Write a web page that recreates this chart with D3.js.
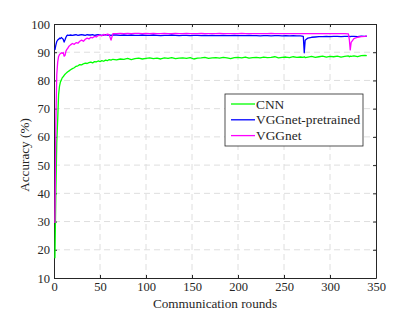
<!DOCTYPE html>
<html>
<head>
<meta charset="utf-8">
<script src="https://cdn.jsdelivr.net/npm/d3@7"></script>
<style>
  body { margin: 0; background: #fff; }
  text { font-family: "Liberation Serif", "DejaVu Serif", serif; fill: #262626; }
</style>
</head>
<body>
<div id="chart"></div>
<script>
const width = 415, height = 312, margin = {top: 24, right: 39, bottom: 34, left: 54};

const rounds = [1,2,3,4,5,6,7,8,9,10,11,12,13,14,15,16,
  18,20,22,24,26,28,30,32,34,36,38,40,42,44,46,48,50,52,54,56,58,60,62,64,
  68,72,76,80,84,88,92,96,100,104,108,112,116,120,124,128,132,136,140,144,148,152,156,160,164,
  168,172,176,180,184,188,192,196,200,204,208,212,216,220,224,228,232,236,240,244,248,252,256,260,264,268,
  271,272,273,276,280,284,288,292,296,300,304,308,312,316,320,321,322,323,326,330,334,338,340];

const cnn = [17,40,58,66,75,78,79.5,80.2,81,81.3,81.8,82.2,82.5,82.8,83.1,83.3,
  83.8,84.2,84.5,85,85.2,85.6,85.5,85.9,86.1,86,86.3,86.5,86.2,86.7,86.6,86.9,86.7,87,86.8,87.2,87.0,87.4,87.2,87.5,
  87.3,87.6,87.5,87.8,87.4,87.7,87.9,87.6,87.8,88.0,
  87.7,87.9,87.6,88.0,87.8,88.1,87.7,87.9,88.0,87.8,
  88.1,87.6,87.9,88.0,88.2,87.8,88.0,88.1,87.9,88.2,
  88.0,87.7,88.1,88.2,88.0,88.3,87.9,88.1,88.2,88.0,
  88.3,88.1,88.2,88.4,88.0,88.2,88.3,88.1,88.4,88.2,
  88.3,
  88.2,88.4,88.1,
  88.3,88.5,88.2,88.4,88.6,88.3,88.5,88.4,88.6,88.3,88.5,88.7,
  88.4,88.6,88.5,
  88.7,88.4,88.8,88.9,88.8];

const vggPre = [90.8,92.5,93.8,94.3,94.6,95.0,94.8,95.2,94.9,94.6,93.6,94.4,95.3,95.9,96.1,96.0,
  96.1,96.0,96.1,96.2,96.0,96.1,96.2,96.1,96.0,96.2,96.1,96.1,96.2,96.0,96.1,96.2,96.1,96.0,96.1,96.2,96.1,96.1,96.0,96.1,
  96.1,96.0,96.1,96.0,96.1,96.0,96.0,96.1,96.0,96.0,
  96.1,96.0,95.9,96.0,96.0,96.1,96.0,95.9,96.0,96.0,
  95.9,96.0,96.0,95.9,96.0,95.9,96.0,95.9,95.9,96.0,
  95.9,95.9,96.0,95.9,95.9,95.9,96.0,95.9,95.9,95.8,
  95.9,95.9,95.8,95.9,95.9,95.8,95.9,95.8,95.9,95.8,
  95.8,
  95.6,89.8,94.2,
  95.0,95.3,95.4,95.5,95.5,95.6,95.5,95.6,95.6,95.5,95.6,95.6,
  95.6,95.5,95.6,
  95.6,95.5,95.7,95.6,95.7];

const vgg = [29.5,65,82,86.5,88.5,89.2,89.5,89.8,89.6,89.9,88.6,88.9,90.4,91.0,91.4,92.0,
  92.6,93.1,92.8,93.4,93.2,93.9,94.3,93.9,94.6,95.0,94.7,95.3,95.1,95.6,95.4,95.9,96.1,95.8,96.3,96.0,96.4,96.2,94.3,96.6,
  96.6,96.7,96.6,96.7,96.6,96.7,96.7,96.6,96.7,96.6,
  96.7,96.6,96.6,96.7,96.6,96.6,96.7,96.6,96.6,96.7,
  96.6,96.6,96.6,96.7,96.6,96.6,96.6,96.6,96.7,96.6,
  96.6,96.6,96.6,96.6,96.7,96.6,96.6,96.6,96.6,96.6,
  96.6,96.6,96.7,96.6,96.6,96.6,96.6,96.6,96.6,96.6,
  96.6,
  96.6,96.6,96.6,
  96.6,96.6,96.6,96.6,96.6,96.6,96.6,96.6,96.6,96.6,96.6,96.5,
  94.5,90.8,93.5,
  94.8,95.3,95.5,95.6,95.8];

const seriesNames = ["CNN", "VGGnet-pretrained", "VGGnet"];
const seriesColors = ["#00ff00", "#0000ff", "#ff00ff"];
const seriesValues = [cnn, vggPre, vgg];

const xTicks = [0, 50, 100, 150, 200, 250, 300, 350];
const yTicks = [10, 20, 30, 40, 50, 60, 70, 80, 90, 100];

const svg = d3.select("#chart")
  .append("svg")
  .attr("width", width)
  .attr("height", height);

const x = d3.scaleLinear()
    .domain([0, 350])
    .range([margin.left, width - margin.right]);

const y = d3.scaleLinear()
    .domain([10, 100])
    .range([height - margin.bottom, margin.top]);

// grid
svg.append("g")
  .selectAll("line")
  .data(xTicks.slice(1, -1))
  .join("line")
  .attr("x1", d => x(d)).attr("x2", d => x(d))
  .attr("y1", margin.top).attr("y2", height - margin.bottom)
  .attr("stroke", "#dedede").attr("stroke-width", 1)
  .attr("stroke-dasharray", "6,4");

svg.append("g")
  .selectAll("line")
  .data(yTicks.slice(1, -1))
  .join("line")
  .attr("x1", margin.left).attr("x2", width - margin.right)
  .attr("y1", d => y(d)).attr("y2", d => y(d))
  .attr("stroke", "#dedede").attr("stroke-width", 1)
  .attr("stroke-dasharray", "6,4");

// axes, ticks inward
const axisStyle = g => {
  g.select(".domain").attr("stroke", "#262626");
  g.selectAll(".tick line").attr("stroke", "#262626");
  g.selectAll(".tick text").style("font-size", "12.5px").attr("fill", "#262626");
};

svg.append("g")
  .attr("transform", `translate(0,${height - margin.bottom})`)
  .call(d3.axisBottom(x).tickValues(xTicks).tickSize(-3).tickPadding(4).tickSizeOuter(0))
  .call(axisStyle);

svg.append("g")
  .attr("transform", `translate(0,${margin.top})`)
  .call(d3.axisTop(x).tickValues(xTicks).tickSize(-3).tickFormat("").tickSizeOuter(0))
  .call(axisStyle);

svg.append("g")
  .attr("transform", `translate(${margin.left},0)`)
  .call(d3.axisLeft(y).tickValues(yTicks).tickSize(-3).tickPadding(4).tickSizeOuter(0))
  .call(axisStyle);

svg.append("g")
  .attr("transform", `translate(${width - margin.right},0)`)
  .call(d3.axisRight(y).tickValues(yTicks).tickSize(-3).tickFormat("").tickSizeOuter(0))
  .call(axisStyle);

// lines
const lineGen = d3.line()
  .x((d, i) => x(rounds[i]))
  .y(d => y(d));

seriesValues.forEach((vals, k) => {
  svg.append("path")
    .datum(vals)
    .attr("fill", "none")
    .attr("stroke", seriesColors[k])
    .attr("stroke-width", 1.3)
    .attr("stroke-linejoin", "round")
    .attr("d", lineGen);
});

// axis labels
svg.append("text")
  .attr("x", (margin.left + width - margin.right) / 2)
  .attr("y", height - 4)
  .attr("text-anchor", "middle")
  .style("font-size", "13.2px")
  .text("Communication rounds");

svg.append("text")
  .attr("transform", `translate(29,155) rotate(-90)`)
  .attr("text-anchor", "middle")
  .style("font-size", "13.2px")
  .text("Accuracy (%)");

// legend
const legend = svg.append("g").attr("transform", "translate(225,94)");
legend.append("rect")
  .attr("width", 138).attr("height", 52)
  .attr("fill", "#fff").attr("stroke", "#262626").attr("stroke-width", 0.8);

seriesNames.forEach((name, k) => {
  const ly = 10 + k * 15.8;
  legend.append("line")
    .attr("x1", 6).attr("x2", 30).attr("y1", ly).attr("y2", ly)
    .attr("stroke", seriesColors[k]).attr("stroke-width", 1.3);
  legend.append("text")
    .attr("x", 31).attr("y", ly + 4.5)
    .style("font-size", "13.4px")
    .text(name);
});
</script>
</body>
</html>
